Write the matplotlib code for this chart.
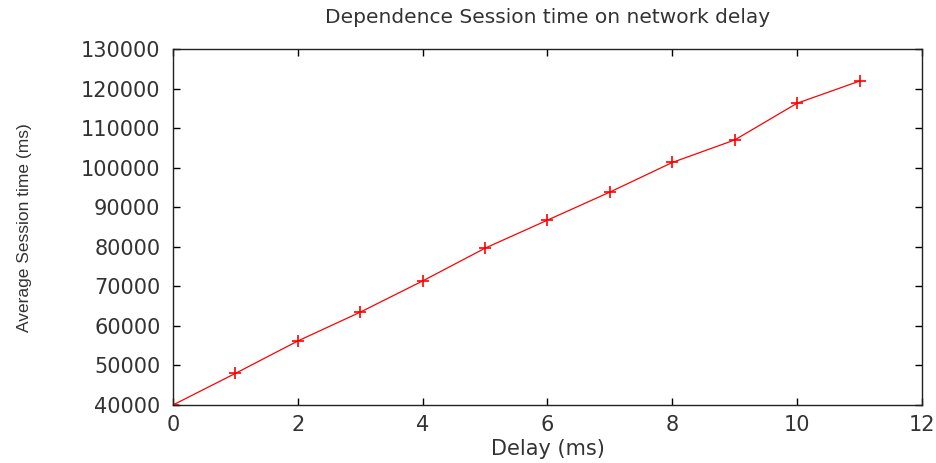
import numpy as np
import matplotlib
matplotlib.use("Agg")
import matplotlib.pyplot as plt

# values
delay = [0, 1, 2, 3, 4, 5, 6, 7, 8, 9, 10, 11]
session_time = [40000, 48000, 56200, 63500, 71400, 79700, 86800,
                93900, 101400, 107100, 116400, 122000]
x_ticks = [0, 2, 4, 6, 8, 10, 12]
y_ticks = list(range(40000, 130001, 10000))

TEXT = "#333333"

fig = plt.figure(figsize=(9.36, 4.63), dpi=100)
ax = fig.add_axes([0.1848, 0.1253, 0.8002, 0.7678])

ax.plot(delay, session_time, color="red", linewidth=0.9,
        marker="+", markersize=8, markeredgewidth=1.2)

ax.set_xlim(0, 12)
ax.set_ylim(40000, 130000)
ax.set_xticks(x_ticks)
ax.set_yticks(y_ticks)
ax.tick_params(direction="in", length=5, width=1, top=True, right=True,
               labelsize=15, labelcolor=TEXT)
ax.tick_params(axis="y", pad=9)
ax.tick_params(axis="x", pad=7)
for s in ax.spines.values():
    s.set_linewidth(1.0)
    s.set_color("#222222")

ax.set_title("Dependence Session time on network delay", fontsize=14.5,
             color=TEXT, pad=19)
ax.set_xlabel("Delay (ms)", fontsize=15, color=TEXT, labelpad=3)
ax.set_ylabel("Average Session time (ms)", fontsize=12.5, color=TEXT,
              family="Liberation Sans")
ax.yaxis.set_label_coords(-0.188, 0.5)

fig.savefig("out.png", dpi=100)
